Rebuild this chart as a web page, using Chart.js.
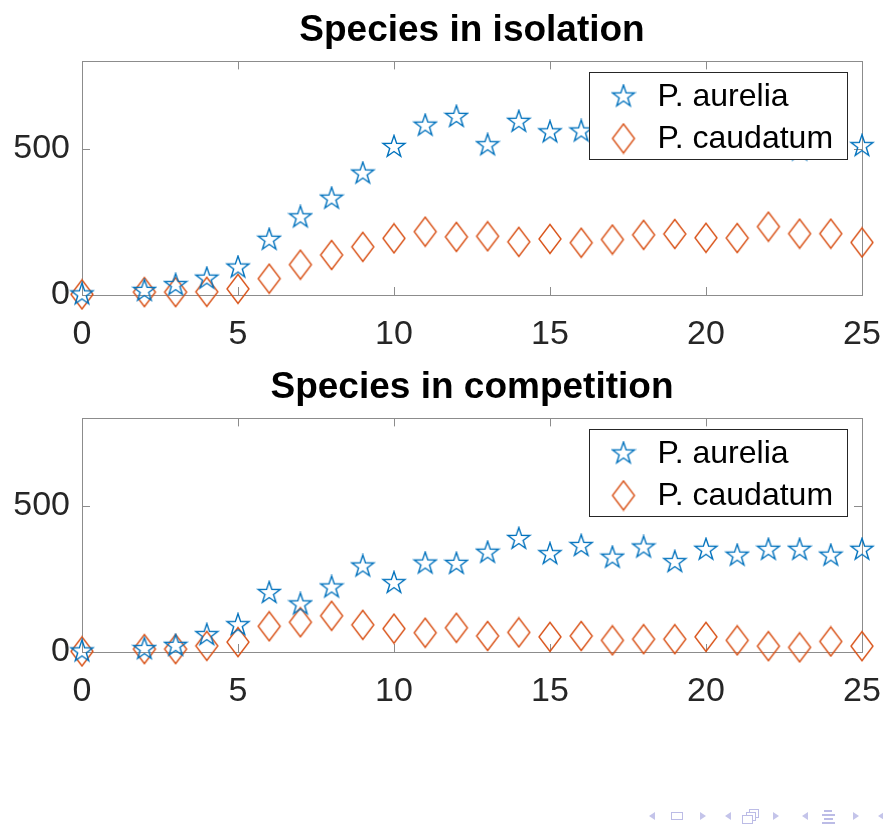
<!DOCTYPE html>
<html>
<head>
<meta charset="utf-8">
<script src="https://cdn.jsdelivr.net/npm/chart.js@4.4.0/dist/chart.umd.min.js"></script>
<style>
  body { margin: 0; background: #fff; width: 883px; height: 827px; position: relative; overflow: hidden; font-family: "Liberation Sans", Arial, sans-serif; }
  canvas { position: absolute; left: 0; }
  .nav { position: absolute; }
  .tl { width: 0; height: 0; border-top: 4.5px solid transparent; border-bottom: 4.5px solid transparent; border-right: 6px solid #c4c4ea; top: 812px; }
  .tr { width: 0; height: 0; border-top: 4.5px solid transparent; border-bottom: 4.5px solid transparent; border-left: 6px solid #c4c4ea; top: 812px; }
  .rect { border: 1.5px solid #bcbce6; background: #fff; }
  .bar { height: 1.5px; background: #bcbce6; }
</style>
</head>
<body>
<canvas id="isolationChart" width="883" height="357" style="top:0"></canvas>
<canvas id="competitionChart" width="883" height="357" style="top:357px"></canvas>

<div class="nav tl" style="left:649px"></div>
<div class="nav rect" style="left:671px; top:812px; width:10px; height:6px"></div>
<div class="nav tr" style="left:700px"></div>
<div class="nav tl" style="left:725px"></div>
<div class="nav rect" style="left:749px; top:809px; width:8px; height:7px"></div>
<div class="nav rect" style="left:746px; top:812px; width:8px; height:7px"></div>
<div class="nav rect" style="left:742px; top:815px; width:9px; height:7px"></div>
<div class="nav tr" style="left:773px"></div>
<div class="nav tl" style="left:802px"></div>
<div class="nav bar" style="left:824px; top:810px; width:8px"></div>
<div class="nav bar" style="left:822px; top:814px; width:13px"></div>
<div class="nav bar" style="left:824px; top:818px; width:9px"></div>
<div class="nav bar" style="left:822px; top:822px; width:13px"></div>
<div class="nav tr" style="left:853px"></div>
<div class="nav tl" style="left:878px"></div>

<script>
// days of observation (no count on day 1)
const days = [0, 2, 3, 4, 5, 6, 7, 8, 9, 10, 11, 12, 13, 14, 15, 16, 17, 18, 19, 20, 21, 22, 23, 24, 25];

// species grown alone
const aureliaAlone = [2, 14, 34, 56, 94, 189, 266, 330, 416, 507, 580, 610, 513, 593, 557, 560, 522, 565, 517, 500, 585, 500, 495, 525, 510];
const caudatumAlone = [2, 10, 10, 11, 21, 56, 104, 137, 165, 194, 217, 199, 201, 182, 192, 179, 190, 206, 209, 196, 195, 234, 210, 210, 180];

// species grown together
const aureliaMixed = [2, 10, 21, 58, 92, 202, 163, 221, 293, 236, 303, 302, 340, 387, 335, 363, 323, 358, 308, 350, 330, 350, 350, 330, 350];
const caudatumMixed = [2, 10, 10, 21, 34, 88, 102, 124, 93, 80, 66, 83, 55, 67, 52, 55, 40, 44, 44, 52, 40, 20, 16, 36, 20];

const yTickValues = [0, 500];
const seriesNames = ['P. aurelia', 'P. caudatum'];

const blue = '#0072BD';
const orange = '#D95319';
const axisGray = '#8c8c8c';
const textDark = '#262626';
const fontFamily = '"Liberation Sans", Arial, sans-serif';

function makeStar(color) {
  const c = document.createElement('canvas');
  c.width = 26; c.height = 26;
  const g = c.getContext('2d');
  g.strokeStyle = color;
  g.lineWidth = 1.4;
  g.beginPath();
  for (let k = 0; k < 10; k++) {
    const a = -Math.PI / 2 + k * Math.PI / 5;
    const rad = k % 2 ? 4.5 : 11.5;
    g.lineTo(13 + rad * Math.cos(a), 13 + rad * Math.sin(a));
  }
  g.closePath();
  g.stroke();
  return c;
}

function makeDiamond(color) {
  const c = document.createElement('canvas');
  c.width = 26; c.height = 32;
  const g = c.getContext('2d');
  g.strokeStyle = color;
  g.lineWidth = 1.4;
  g.beginPath();
  g.moveTo(13, 1.5);
  g.lineTo(24, 16);
  g.lineTo(13, 30.5);
  g.lineTo(2, 16);
  g.closePath();
  g.stroke();
  return c;
}

const starImg = makeStar(blue);
const diamondImg = makeDiamond(orange);

function toPoints(values) {
  return days.map((d, i) => ({ x: d, y: values[i] }));
}

// box around the axes with inward ticks on all four sides
const framePlugin = {
  id: 'frame',
  beforeDatasetsDraw(chart) {
    const ctx = chart.ctx;
    const { left, right, top, bottom } = chart.chartArea;
    const xs = chart.scales.x, ys = chart.scales.y;
    ctx.save();
    ctx.strokeStyle = axisGray;
    ctx.lineWidth = 1;
    ctx.strokeRect(Math.round(left) + 0.5, Math.round(top) + 0.5, Math.round(right - left), Math.round(bottom - top));
    ctx.beginPath();
    xs.ticks.forEach(t => {
      const px = Math.round(xs.getPixelForValue(t.value)) + 0.5;
      ctx.moveTo(px, bottom); ctx.lineTo(px, bottom - 8);
      ctx.moveTo(px, top); ctx.lineTo(px, top + 8);
    });
    ys.ticks.forEach(t => {
      const py = Math.round(ys.getPixelForValue(t.value)) + 0.5;
      ctx.moveTo(left, py); ctx.lineTo(left + 8, py);
      ctx.moveTo(right, py); ctx.lineTo(right - 8, py);
    });
    ctx.stroke();
    ctx.restore();
  }
};

// legend box in the upper right corner of the axes
const boxLegendPlugin = {
  id: 'boxLegend',
  afterDatasetsDraw(chart) {
    const ctx = chart.ctx;
    const { right, top } = chart.chartArea;
    const w = 258, h = 87;
    const x0 = Math.round(right - 15 - w) + 0.5;
    const y0 = Math.round(top + 11) + 0.5;
    ctx.save();
    ctx.fillStyle = '#fff';
    ctx.fillRect(x0, y0, w, h);
    ctx.strokeStyle = textDark;
    ctx.lineWidth = 1;
    ctx.strokeRect(x0, y0, w, h);
    ctx.font = '32px ' + fontFamily;
    ctx.fillStyle = '#000';
    ctx.textBaseline = 'middle';
    chart.data.datasets.forEach((ds, i) => {
      const cy = y0 + 24 + i * 42;
      const img = ds.pointStyle;
      ctx.drawImage(img, x0 + 34 - img.width / 2, cy - img.height / 2);
      ctx.fillText(ds.label, x0 + 68, cy + 1);
    });
    ctx.restore();
  }
};

function buildChart(id, title, aureliaValues, caudatumValues) {
  const ctx = document.getElementById(id);
  return new Chart(ctx.getContext('2d'), {
    type: 'scatter',
    data: {
      datasets: [{
        label: seriesNames[0],
        data: toPoints(aureliaValues),
        pointStyle: starImg,
        showLine: false,
        clip: false
      }, {
        label: seriesNames[1],
        data: toPoints(caudatumValues),
        pointStyle: diamondImg,
        showLine: false,
        clip: false
      }]
    },
    options: {
      responsive: false,
      animation: false,
      events: [],
      layout: { padding: { left: 0, right: 21, top: 0, bottom: 0 } },
      plugins: {
        legend: { display: false },
        tooltip: { enabled: false },
        title: {
          display: true,
          text: title,
          fullSize: false,
          color: '#000',
          font: { family: fontFamily, size: 37, weight: 'bold', lineHeight: 1.2 },
          padding: { top: 9, bottom: 8 }
        }
      },
      scales: {
        x: {
          type: 'linear',
          min: 0,
          max: 25,
          ticks: { stepSize: 5, color: textDark, font: { family: fontFamily, size: 34 }, padding: 19, maxRotation: 0 },
          grid: { display: false, drawTicks: false },
          border: { display: false },
          afterFit: function(scale) {
            scale.height = 62;
            scale.paddingLeft = 0;
            scale.paddingRight = 0;
          }
        },
        y: {
          type: 'linear',
          min: 0,
          max: 800,
          afterBuildTicks: function(scale) { scale.ticks = yTickValues.map(v => ({ value: v })); },
          ticks: { color: textDark, font: { family: fontFamily, size: 34 }, padding: 12 },
          grid: { display: false, drawTicks: false },
          border: { display: false },
          afterFit: function(scale) {
            scale.width = 82;
            scale.paddingTop = 0;
            scale.paddingBottom = 0;
          }
        }
      }
    },
    plugins: [framePlugin, boxLegendPlugin]
  });
}

buildChart('isolationChart', 'Species in isolation', aureliaAlone, caudatumAlone);
buildChart('competitionChart', 'Species in competition', aureliaMixed, caudatumMixed);
</script>
</body>
</html>
